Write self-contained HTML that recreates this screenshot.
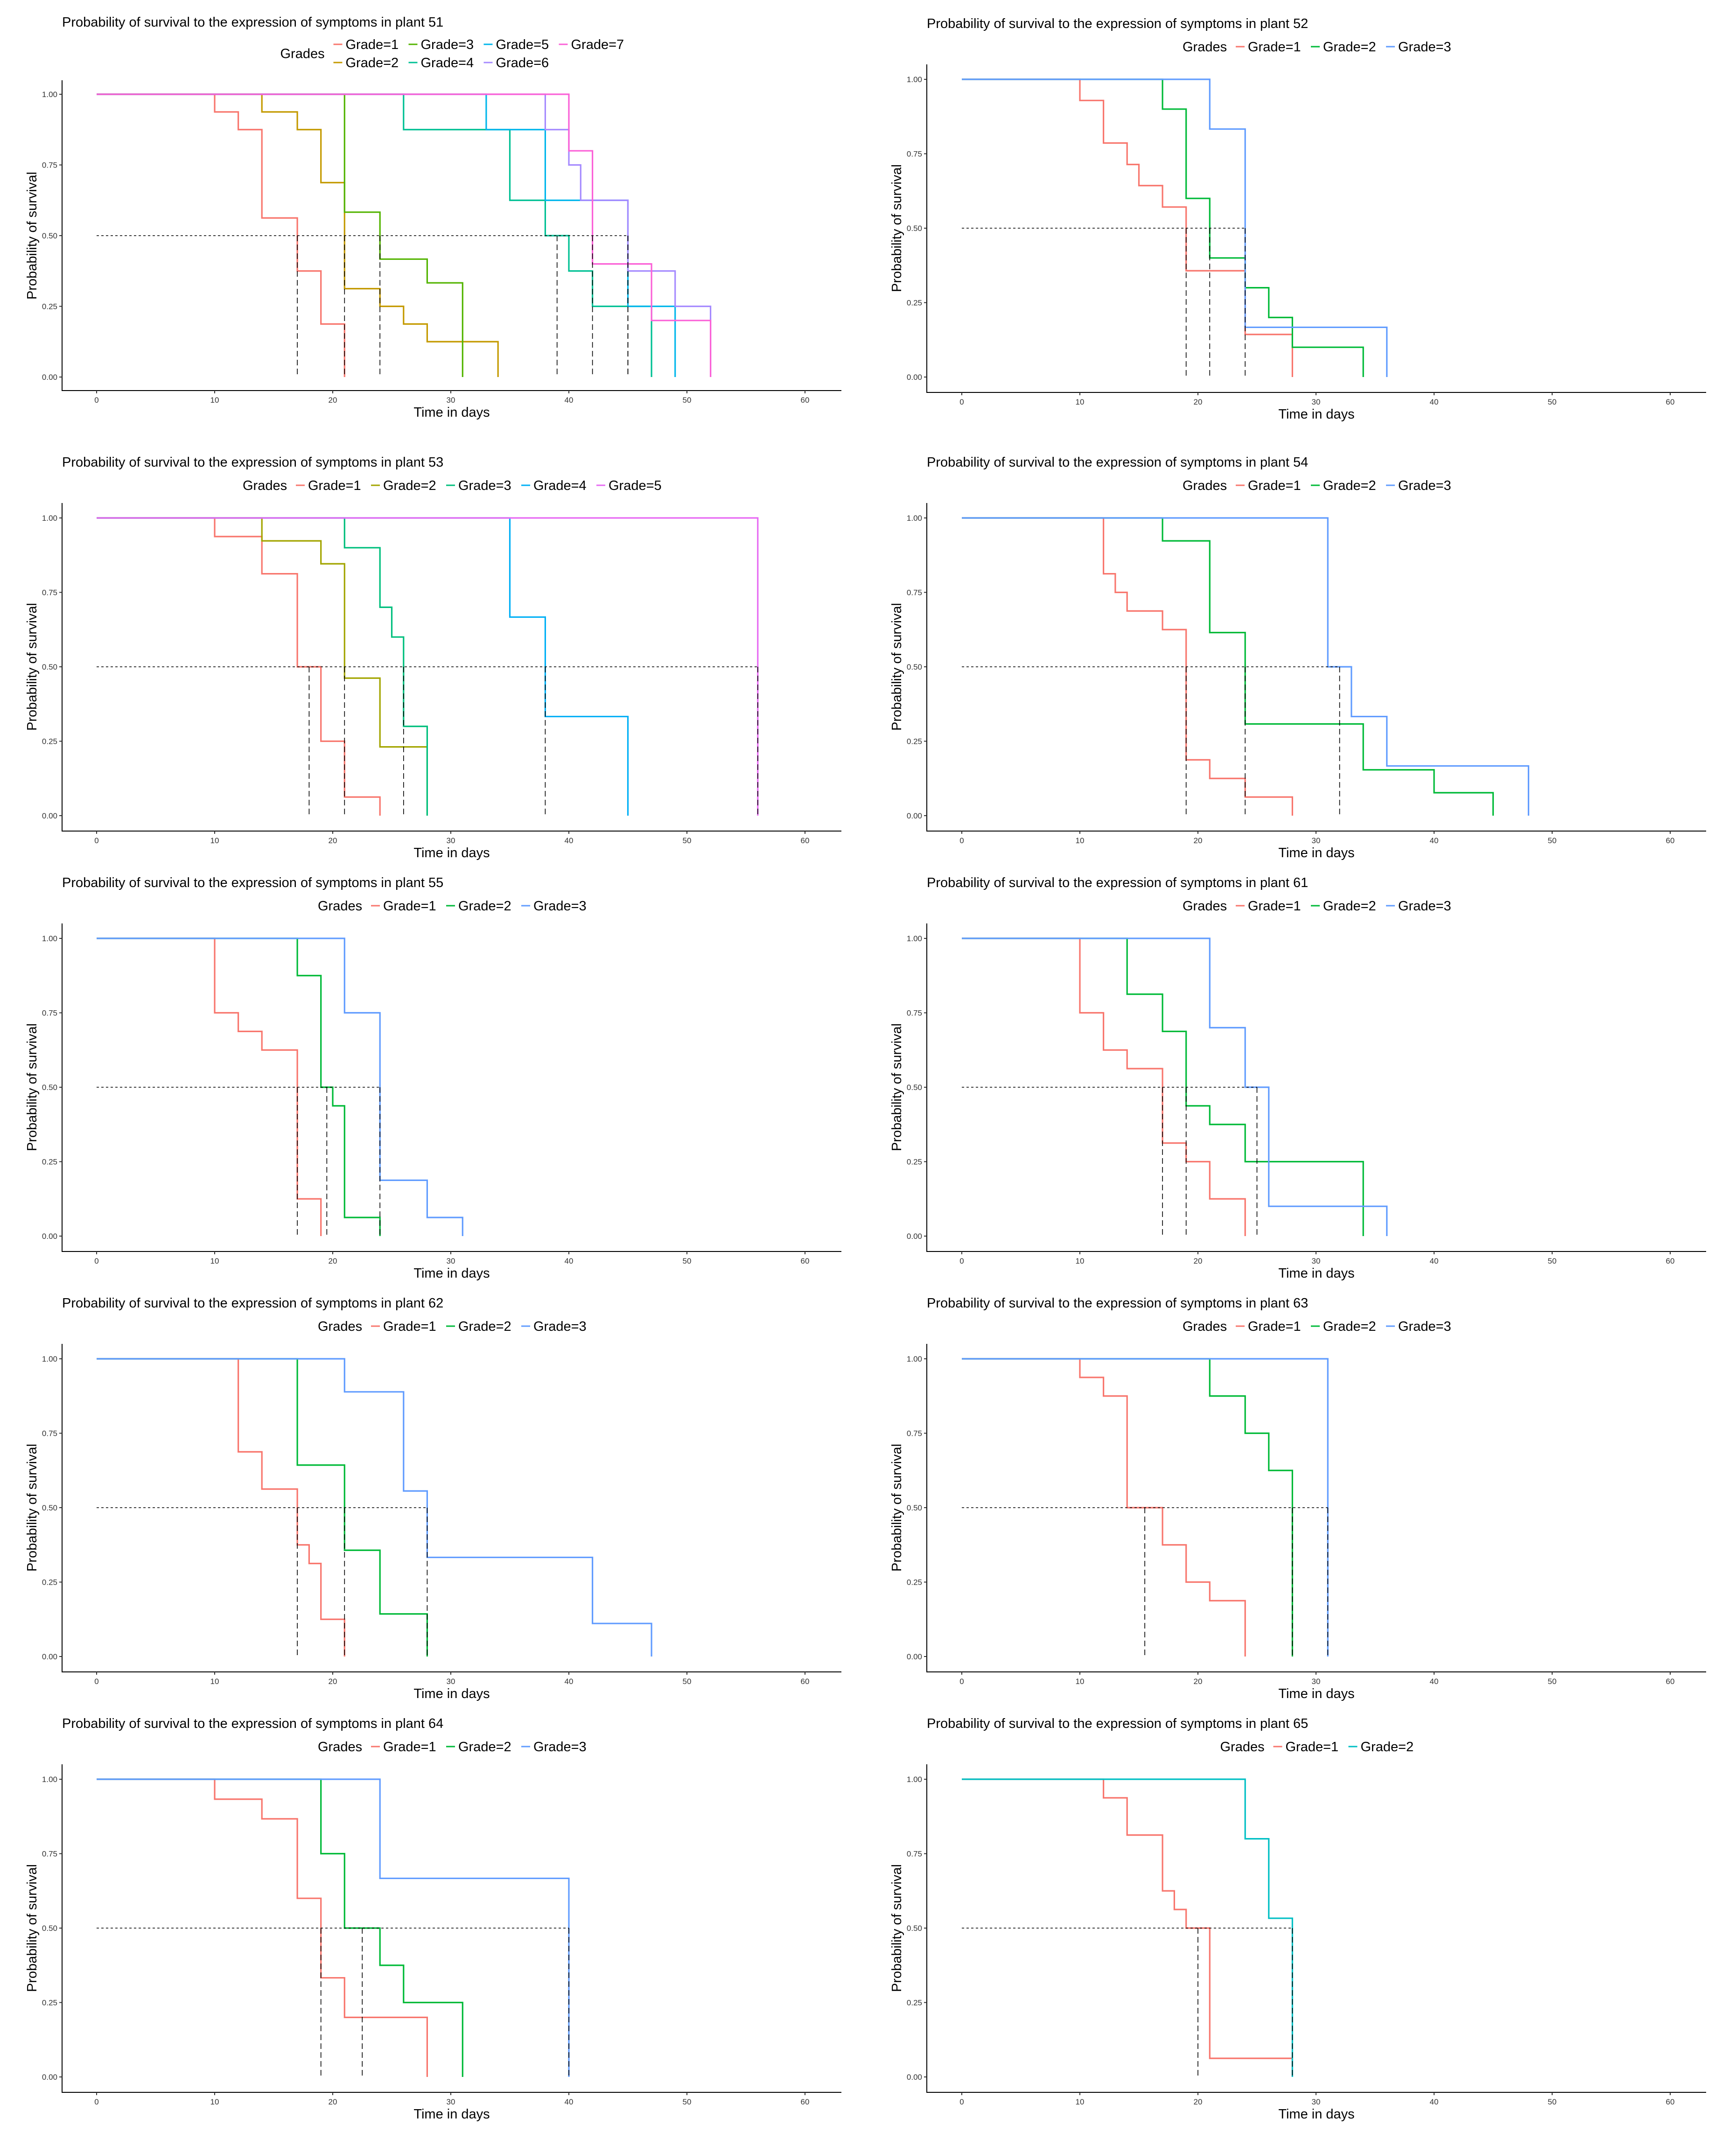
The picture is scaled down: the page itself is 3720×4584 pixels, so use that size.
<!DOCTYPE html>
<html>
<head>
<meta charset="utf-8">
<style>
html,body{margin:0;padding:0;background:#fff;}
svg{display:block;}
text{font-family:"Liberation Sans",Arial,sans-serif;}
</style>
</head>
<body>
<svg id="chart" width="3720" height="4584" viewBox="0 0 3720 4584" xmlns="http://www.w3.org/2000/svg"></svg>
<script>
// ---- Data (Kaplan-Meier steps per grade: event times and survival after each time) ----
const xTicks = [0, 10, 20, 30, 40, 50, 60];
const yTicks = [0, 0.25, 0.5, 0.75, 1];
const yTickLabels = ["0.00", "0.25", "0.50", "0.75", "1.00"];

const p51Grades = ["Grade=1","Grade=2","Grade=3","Grade=4","Grade=5","Grade=6","Grade=7"];
const p51Times = [[10,12,14,17,19,21],[14,17,19,21,24,26,28,34],[21,24,28,31],[26,35,38,40,42,47],[33,38,45,49],[38,40,41,45,49,52],[40,42,47,52]];
const p51Surv = [[0.9375,0.875,0.5625,0.375,0.1875,0],[0.9375,0.875,0.6875,0.3125,0.25,0.1875,0.125,0],[0.583,0.417,0.333,0],[0.875,0.625,0.5,0.375,0.25,0],[0.875,0.625,0.25,0],[0.875,0.75,0.625,0.375,0.25,0],[0.8,0.4,0.2,0]];
const p51Medians = [17,21,24,39,45,45,42];

const p52Grades = ["Grade=1","Grade=2","Grade=3"];
const p52Times = [[10,12,14,15,17,19,24,28],[17,19,21,24,26,28,34],[21,24,36]];
const p52Surv = [[0.929,0.786,0.714,0.643,0.571,0.357,0.143,0],[0.9,0.6,0.4,0.3,0.2,0.1,0],[0.833,0.167,0]];
const p52Medians = [19,21,24];

const p53Grades = ["Grade=1","Grade=2","Grade=3","Grade=4","Grade=5"];
const p53Times = [[10,14,17,19,21,24],[14,19,21,24,28],[21,24,25,26,28],[35,38,45],[56]];
const p53Surv = [[0.9375,0.8125,0.5,0.25,0.0625,0],[0.923,0.846,0.462,0.231,0],[0.9,0.7,0.6,0.3,0],[0.667,0.333,0],[0]];
const p53Medians = [18,21,26,38,56];

const p54Grades = ["Grade=1","Grade=2","Grade=3"];
const p54Times = [[12,13,14,17,19,21,24,28],[17,21,24,34,40,45],[31,33,36,48]];
const p54Surv = [[0.8125,0.75,0.6875,0.625,0.1875,0.125,0.0625,0],[0.923,0.615,0.308,0.154,0.077,0],[0.5,0.333,0.167,0]];
const p54Medians = [19,24,32];

const p55Grades = ["Grade=1","Grade=2","Grade=3"];
const p55Times = [[10,12,14,17,19],[17,19,20,21,24],[21,24,28,31]];
const p55Surv = [[0.75,0.6875,0.625,0.125,0],[0.875,0.5,0.4375,0.0625,0],[0.75,0.1875,0.0625,0]];
const p55Medians = [17,19.5,24];

const p61Grades = ["Grade=1","Grade=2","Grade=3"];
const p61Times = [[10,12,14,17,19,21,24],[14,17,19,21,24,34],[21,24,26,36]];
const p61Surv = [[0.75,0.625,0.5625,0.3125,0.25,0.125,0],[0.8125,0.6875,0.4375,0.375,0.25,0],[0.7,0.5,0.1,0]];
const p61Medians = [17,19,25];

const p62Grades = ["Grade=1","Grade=2","Grade=3"];
const p62Times = [[12,14,17,18,19,21],[17,21,24,28],[21,26,28,42,47]];
const p62Surv = [[0.6875,0.5625,0.375,0.3125,0.125,0],[0.643,0.357,0.143,0],[0.889,0.556,0.333,0.111,0]];
const p62Medians = [17,21,28];

const p63Grades = ["Grade=1","Grade=2","Grade=3"];
const p63Times = [[10,12,14,17,19,21,24],[21,24,26,28],[31]];
const p63Surv = [[0.9375,0.875,0.5,0.375,0.25,0.1875,0],[0.875,0.75,0.625,0],[0]];
const p63Medians = [15.5,28,31];

const p64Grades = ["Grade=1","Grade=2","Grade=3"];
const p64Times = [[10,14,17,19,21,28],[19,21,24,26,31],[24,40]];
const p64Surv = [[0.933,0.867,0.6,0.333,0.2,0],[0.75,0.5,0.375,0.25,0],[0.667,0]];
const p64Medians = [19,22.5,40];

const p65Grades = ["Grade=1","Grade=2"];
const p65Times = [[12,14,17,18,19,21,28],[24,26,28]];
const p65Surv = [[0.9375,0.8125,0.625,0.5625,0.5,0.0625,0],[0.8,0.533,0]];
const p65Medians = [20,28];

// ---- Rendering ----
const NS = "http://www.w3.org/2000/svg";
const svg = document.getElementById("chart");
const PAL = {
  2: ["#F8766D","#00BFC4"],
  3: ["#F8766D","#00BA38","#619CFF"],
  5: ["#F8766D","#A3A500","#00BF7D","#00B0F6","#E76BF3"],
  7: ["#F8766D","#C49A00","#53B400","#00C094","#00B6EB","#A58AFF","#FB61D7"]
};
function mk(tag, attrs, parent) {
  const e = document.createElementNS(NS, tag);
  for (const k in attrs) e.setAttribute(k, attrs[k]);
  (parent || svg).appendChild(e);
  return e;
}
function txt(s, attrs, parent) { const t = mk("text", attrs, parent); t.textContent = s; return t; }

function drawPanel(p) {
  const g = mk("g", {});
  
  
  const pxDay = 25.3;
  const sx = d => p.x0 + d * pxDay;
  const sy = v => p.y0 - (p.y0 - p.y1) * v;
  const cols = PAL[p.grades.length];

  // title
  const title = txt("Probability of survival to the expression of symptoms in plant " + p.plant,
    {x: p.axisLeft, y: p.T + 10, "font-size": 29, fill: "#000"}, g);
  
  

  // legend
  const leg = mk("g", {}, g);
  
  
  const nRows = p.legendRows.length;
  const nCols = Math.ceil(p.grades.length / nRows);
  const legW = 114 + nCols * 161 - 23;
  const lx = (p.axisLeft + p.xEnd) / 2 - legW / 2;
  const lyMid = nRows === 1 ? p.legendRows[0] : (p.legendRows[0] + p.legendRows[1]) / 2;
  const lt = txt("Grades", {x: lx, y: lyMid + 10, "font-size": 29, fill: "#000"}, leg);
  
  
  p.grades.forEach((name, i) => {
    const c = Math.floor(i / nRows), r = i % nRows;
    const dx = lx + 114 + c * 161, yy = p.legendRows[r];
    const e = mk("g", {}, leg);
    
    
    mk("line", {x1: dx, x2: dx + 19, y1: yy, y2: yy, stroke: cols[i], "stroke-width": 3}, e);
    txt(name, {x: dx + 26, y: yy + 10, "font-size": 29, fill: "#000"}, e);
  });

  // axes
  const ya = mk("g", {}, g);
  
  
  mk("line", {x1: p.axisLeft, x2: p.axisLeft, y1: p.axisTop, y2: p.axisY + 1, stroke: "#000", "stroke-width": 2}, ya);
  yTicks.forEach((v, i) => {
    mk("line", {x1: p.axisLeft - 6, x2: p.axisLeft, y1: sy(v), y2: sy(v), stroke: "#333", "stroke-width": 2}, ya);
    txt(yTickLabels[i], {x: p.axisLeft - 10, y: sy(v) + 6, "font-size": 17, fill: "#333", "text-anchor": "end"}, ya);
  });
  const yt = txt("Probability of survival", {x: 0, y: 0, "font-size": 29, fill: "#000", "text-anchor": "middle",
    transform: "translate(" + (p.axisLeft - 65 + 10) + "," + ((p.y0 + p.y1) / 2) + ") rotate(-90)"}, g);
  
  

  const xa = mk("g", {}, g);
  
  
  mk("line", {x1: p.axisLeft - 1, x2: p.xEnd, y1: p.axisY, y2: p.axisY, stroke: "#000", "stroke-width": 2}, xa);
  xTicks.forEach(d => {
    mk("line", {x1: sx(d), x2: sx(d), y1: p.axisY, y2: p.axisY + 6, stroke: "#333", "stroke-width": 2}, xa);
    txt(String(d), {x: sx(d), y: p.axisY + 26, "font-size": 17, fill: "#333", "text-anchor": "middle"}, xa);
  });
  const xt = txt("Time in days", {x: (p.axisLeft + p.xEnd) / 2, y: p.axisY + 56, "font-size": 29, fill: "#000", "text-anchor": "middle"}, g);
  
  

  // curves
  p.times.forEach((ts, gi) => {
    let d = "M" + sx(0) + "," + sy(1);
    let cur = 1;
    ts.forEach((t, k) => {
      d += " H" + sx(t) + " V" + sy(p.surv[gi][k]);
      cur = p.surv[gi][k];
    });
    const path = mk("path", {d: d, fill: "none", stroke: cols[gi], "stroke-width": 3.2, "stroke-linejoin": "miter"}, g);
    
    
  });

  // median lines
  const mg = mk("g", {}, g);
  
  
  const maxMed = Math.max.apply(null, p.medians);
  mk("line", {x1: sx(0), x2: sx(maxMed), y1: sy(0.5), y2: sy(0.5), stroke: "#000", "stroke-width": 1.6, "stroke-dasharray": "5,5"}, mg);
  p.medians.forEach(m => {
    mk("line", {x1: sx(m), x2: sx(m), y1: sy(0.5), y2: sy(0), stroke: "#000", "stroke-width": 1.6, "stroke-dasharray": "12,7"}, mg);
  });
}

const L = {axisLeft: 133, x0: 207, xEnd: 1803};
const R = {axisLeft: 1986, x0: 2061, xEnd: 3656};
function std(col, T) {
  return Object.assign({}, col, {T: T, y1: T + 120, y0: T + 758, axisY: T + 791, axisTop: T + 88, legendRows: [T + 50]});
}
const rowT = [990, 1891, 2792, 3693];

drawPanel(Object.assign({}, L, {T: 47, y1: 202, y0: 808, axisY: 837, axisTop: 172, legendRows: [95, 134],
  plant: 51, grades: p51Grades, times: p51Times, surv: p51Surv, medians: p51Medians}));
drawPanel(Object.assign(std(R, 50), {plant: 52, grades: p52Grades, times: p52Times, surv: p52Surv, medians: p52Medians}));
drawPanel(Object.assign(std(L, rowT[0]), {plant: 53, grades: p53Grades, times: p53Times, surv: p53Surv, medians: p53Medians}));
drawPanel(Object.assign(std(R, rowT[0]), {plant: 54, grades: p54Grades, times: p54Times, surv: p54Surv, medians: p54Medians}));
drawPanel(Object.assign(std(L, rowT[1]), {plant: 55, grades: p55Grades, times: p55Times, surv: p55Surv, medians: p55Medians}));
drawPanel(Object.assign(std(R, rowT[1]), {plant: 61, grades: p61Grades, times: p61Times, surv: p61Surv, medians: p61Medians}));
drawPanel(Object.assign(std(L, rowT[2]), {plant: 62, grades: p62Grades, times: p62Times, surv: p62Surv, medians: p62Medians}));
drawPanel(Object.assign(std(R, rowT[2]), {plant: 63, grades: p63Grades, times: p63Times, surv: p63Surv, medians: p63Medians}));
drawPanel(Object.assign(std(L, rowT[3]), {plant: 64, grades: p64Grades, times: p64Times, surv: p64Surv, medians: p64Medians}));
drawPanel(Object.assign(std(R, rowT[3]), {plant: 65, grades: p65Grades, times: p65Times, surv: p65Surv, medians: p65Medians}));
</script>
</body>
</html>
